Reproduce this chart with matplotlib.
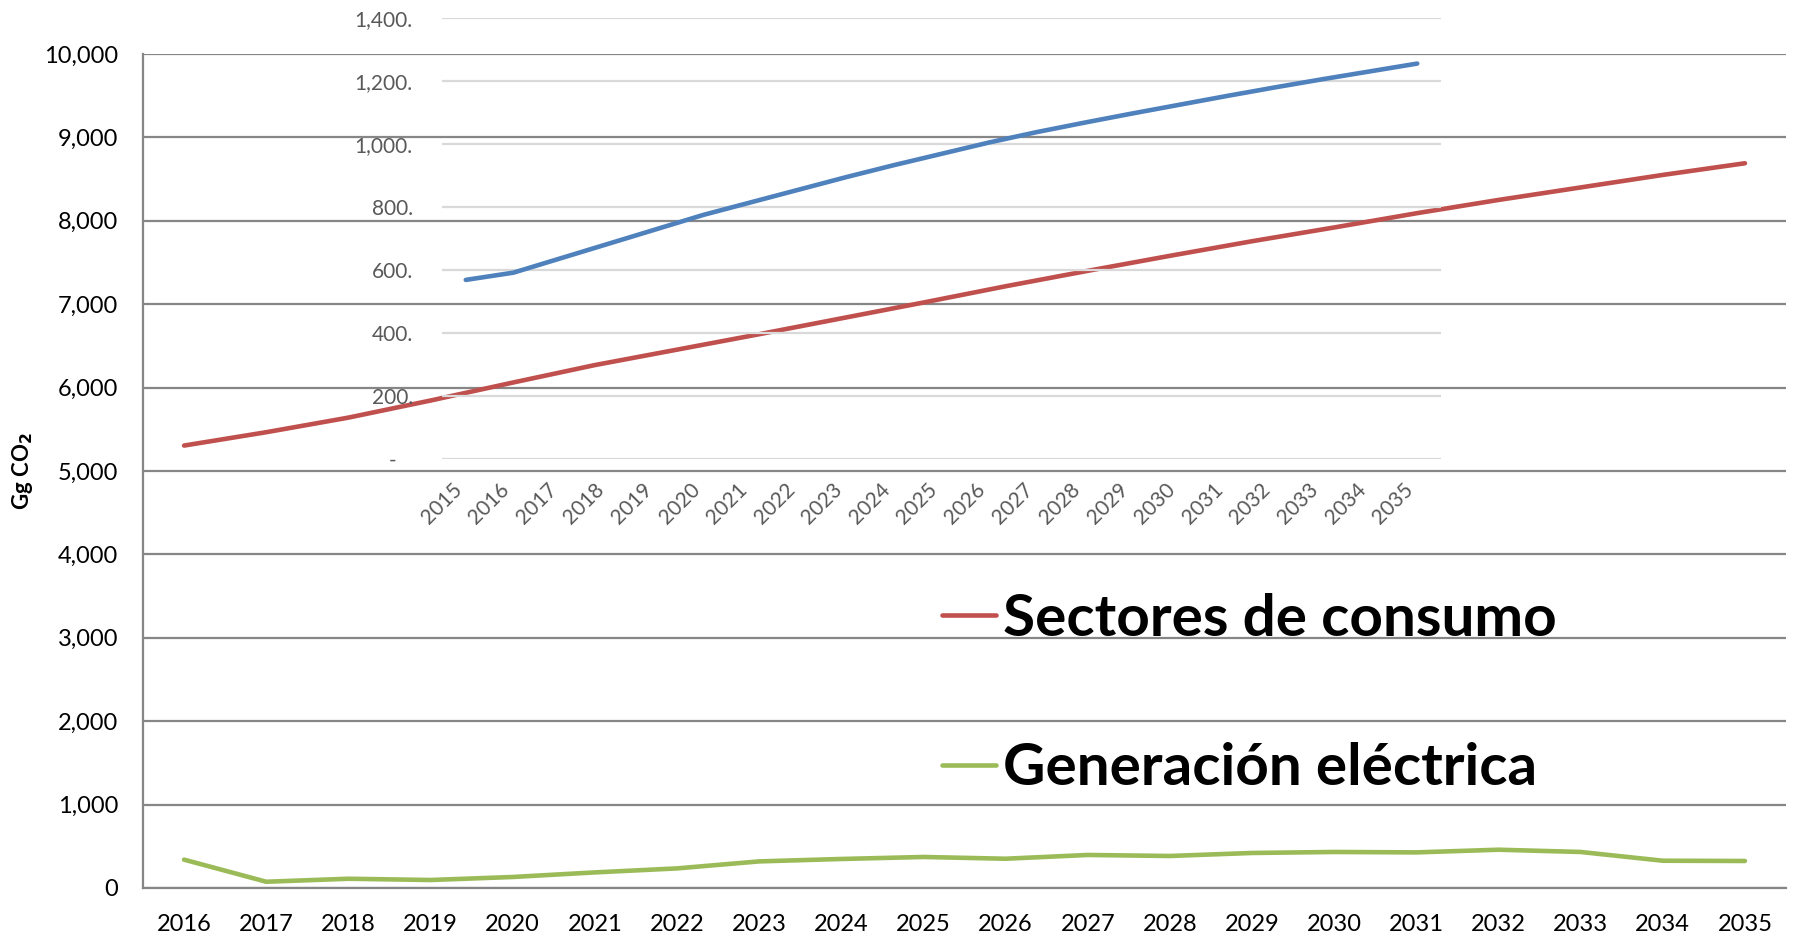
import matplotlib
matplotlib.use("Agg")
import matplotlib.pyplot as plt

plt.rcParams['font.family'] = ['Lato', 'DejaVu Sans']

# main chart data (Gg CO2)
years = list(range(2016, 2036))
consumo = [5305, 5465, 5640, 5845, 6060, 6270, 6455, 6640, 6830, 7020,
           7215, 7400, 7580, 7755, 7920, 8090, 8250, 8400, 8550, 8690]
generacion = [340, 75, 111, 96, 132, 187, 235, 319, 348, 372,
              351, 396, 384, 420, 432, 427, 459, 432, 327, 324]
main_yticks = [0, 1000, 2000, 3000, 4000, 5000, 6000, 7000, 8000, 9000, 10000]
main_ylabels = ["0", "1,000", "2,000", "3,000", "4,000", "5,000",
                "6,000", "7,000", "8,000", "9,000", "10,000"]

# inset chart data
inset_years = list(range(2015, 2036))
inset_vals = [568, 591, 637, 683, 729, 775, 815, 855, 895, 933, 969,
              1005, 1038, 1068, 1097, 1125, 1153, 1180, 1206, 1231, 1256]
inset_yticks = [0, 200, 400, 600, 800, 1000, 1200, 1400]
inset_ylabels = ["-   ", "200.", "400.", "600.", "800.", "1,000.", "1,200.", "1,400."]

RED = "#C0504D"
GREEN = "#9BBB59"
BLUE = "#4F81BD"
AXGRAY = "#868686"

W, H = 1793, 936
fig = plt.figure(figsize=(W / 100, H / 100), dpi=100)

# main axes
ax = fig.add_axes([143 / W, 1 - 888 / H, (1786 - 143) / W, (888 - 54) / H])
l1, = ax.plot(years, consumo, color=RED, lw=3.3, solid_capstyle='round', label='Sectores de consumo')
l2, = ax.plot(years, generacion, color=GREEN, lw=3.3, solid_capstyle='round', label='Generación eléctrica')
ax.set_xlim(2015.5, 2035.5)
ax.set_ylim(0, 10000)
ax.set_xticks(years)
ax.set_xticklabels([str(y) for y in years])
ax.set_yticks(main_yticks)
ax.set_yticklabels(main_ylabels)
ax.tick_params(axis='both', length=0, labelsize=17, colors='black')
ax.tick_params(axis='y', pad=18)
ax.tick_params(axis='x', pad=19)
ax.grid(axis='y', color=AXGRAY, lw=1.6)
ax.set_axisbelow(True)
for s in ['top', 'right']:
    ax.spines[s].set_visible(False)
ax.spines['left'].set_color(AXGRAY)
ax.spines['left'].set_linewidth(1.6)
ax.spines['bottom'].set_color(AXGRAY)
ax.spines['bottom'].set_linewidth(1.6)
ax.set_ylabel(r"Gg CO$_\mathbf{2}$", fontsize=16, fontweight='bold')
ax.yaxis.set_label_coords(-0.0655, 0.5)

leg = ax.legend(handles=[l1, l2], loc='center left',
                bbox_to_anchor=(942 / W, 1 - 694 / H), bbox_transform=fig.transFigure,
                frameon=False, prop={'size': 42, 'weight': 'bold'},
                handlelength=0.93, handletextpad=0.12, labelspacing=1.66,
                borderpad=0, borderaxespad=0)

# inset axes
ins = fig.add_axes([442 / W, 1 - 458.5 / H, (1441 - 442) / W, (458.5 - 18.3) / H])
ins.patch.set_alpha(0)
ins.plot(inset_years, inset_vals, color=BLUE, lw=3.3, solid_capstyle='round')
ins.set_xlim(2014.5, 2035.5)
ins.set_ylim(0, 1400)
ins.set_xticks(inset_years)
ins.set_xticklabels([str(y) for y in inset_years], rotation=45, ha='right')
ins.set_yticks(inset_yticks)
ins.set_yticklabels(inset_ylabels)
ins.tick_params(axis='both', length=0, labelsize=15, colors='#595959')
ins.tick_params(axis='y', pad=21)
ins.tick_params(axis='x', pad=15)
ins.grid(axis='y', color='#D9D9D9', lw=1.6)
ins.set_axisbelow(True)
for s in ins.spines.values():
    s.set_visible(False)

fig.savefig("out.png", dpi=100)
